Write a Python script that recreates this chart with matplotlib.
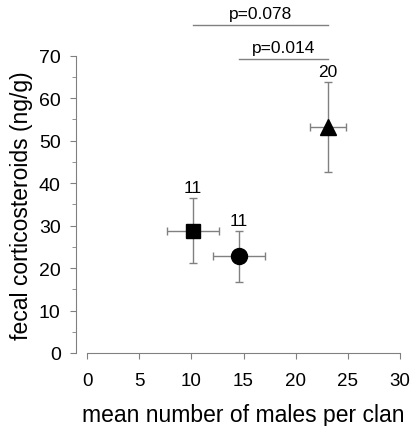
import matplotlib
matplotlib.use('Agg')
from matplotlib import pyplot as plt

plt.rcParams['font.family'] = ['Liberation Sans', 'DejaVu Sans']

# group means and errors
males = [10.15, 14.55, 23.1]
males_err = [2.5, 2.5, 1.7]
cort = [28.8, 22.8, 53.3]
cort_err = [7.7, 6.0, 10.6]
markers = ['s', 'o', '^']
sizes = [9.5, 11.5, 11]
n_labels = ['11', '11', '20']

grey = '#808080'

fig = plt.figure(figsize=(4.11, 4.27), dpi=100)
ax = fig.add_axes([0.212, 0.171, 0.761, 0.696])

for i in range(len(males)):
    ax.errorbar(males[i], cort[i], xerr=males_err[i], yerr=cort_err[i],
                fmt=markers[i], color='black', ms=sizes[i], ecolor=grey,
                elinewidth=1, capsize=3, capthick=1, clip_on=False, zorder=3)
    ax.text(males[i], cort[i] + cort_err[i] + 0.6, n_labels[i],
            ha='center', va='bottom', fontsize=12.5)

# significance brackets
ax.plot([males[0], males[2]], [77.3, 77.3], color=grey, lw=1, clip_on=False)
ax.text((males[0] + males[2]) / 2, 78.3, 'p=0.078', ha='center', va='bottom', fontsize=12.5)
ax.plot([males[1], males[2]], [69.2, 69.2], color=grey, lw=1, clip_on=False)
ax.text((males[1] + males[2]) / 2, 70.2, 'p=0.014', ha='center', va='bottom', fontsize=12.5)

ax.set_xlim(0, 30)
ax.set_ylim(0, 70)
ax.set_xticks(range(0, 31, 5))
ax.set_yticks(range(0, 71, 10))
ax.set_yticks(range(5, 70, 10), minor=True)

ax.spines['top'].set_visible(False)
ax.spines['right'].set_visible(False)
ax.spines['left'].set_position(('outward', 8))
ax.spines['left'].set_color(grey)
ax.spines['bottom'].set_color(grey)
ax.tick_params(axis='both', colors=grey, labelcolor='black', length=4)
ax.tick_params(axis='y', which='minor', colors=grey, length=3)
ax.tick_params(axis='y', labelsize=14, pad=7)
ax.tick_params(axis='x', labelsize=13.5, pad=10)

ax.set_xlabel('mean number of males per clan', fontsize=16.5, labelpad=10)
ax.set_ylabel('fecal corticosteroids (ng/g)', fontsize=16.5, labelpad=4)

plt.savefig('out.png', dpi=100)
